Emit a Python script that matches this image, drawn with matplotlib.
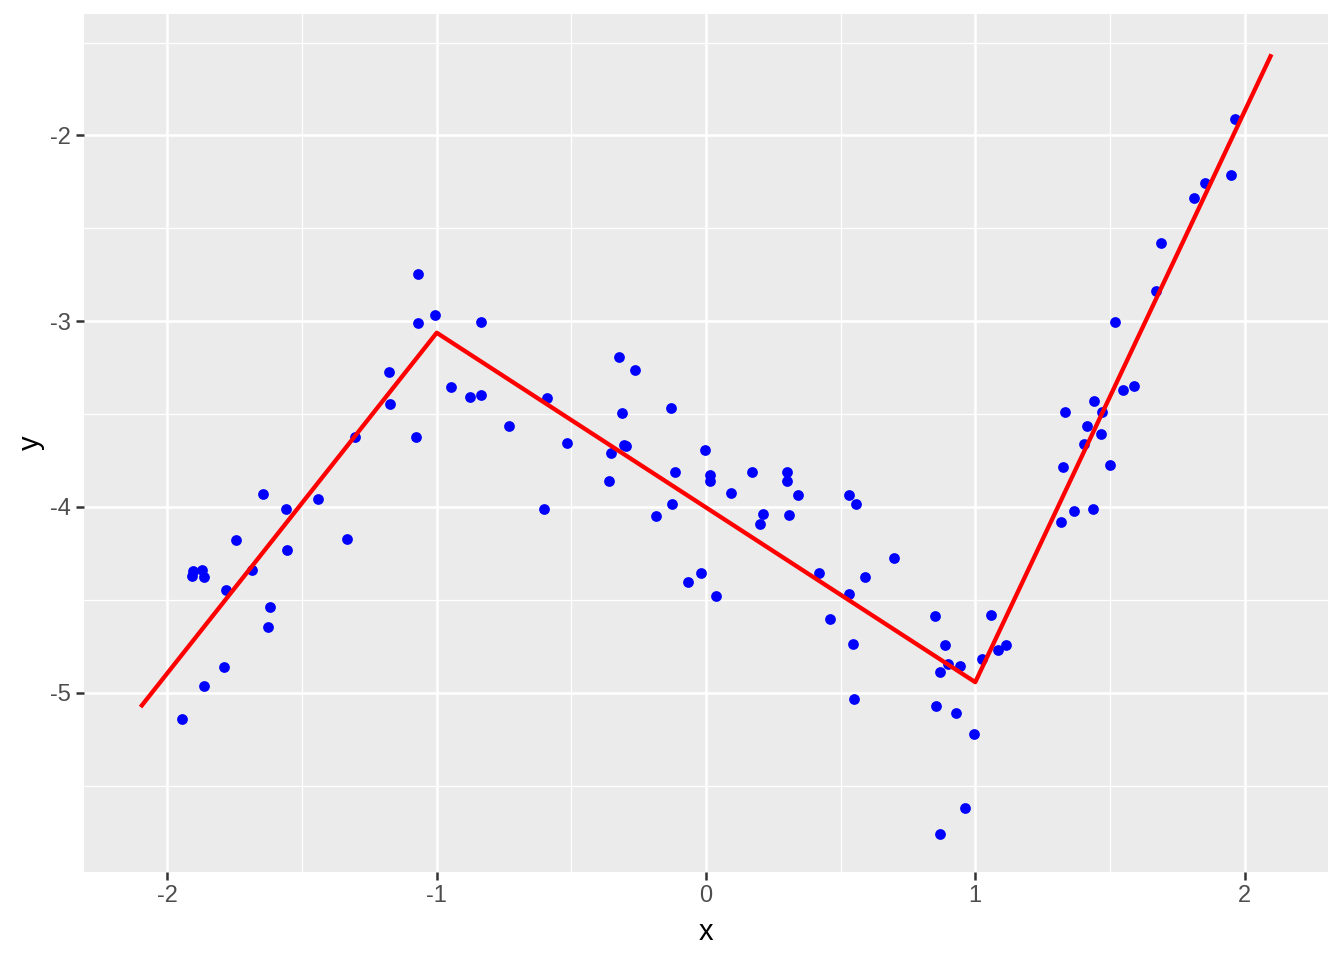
import matplotlib
matplotlib.use("Agg")
import matplotlib.pyplot as plt
from matplotlib.ticker import MultipleLocator

x = [-1.646, -1.561, -1.442, -1.746, -1.557, -1.334, -1.904, -1.873, -1.910, -1.864,
     -1.687, -1.783, -1.619, -1.628, -1.791, -1.866, -1.947,
     -1.071, -1.071, -1.008, -0.837, -1.178, -1.175, -1.305, -1.078, -0.947,
     -0.877, -0.837, -0.732, -0.592, -0.517,
     -0.603, -0.324, -0.265, -0.312, -0.131, -0.306, -0.297, -0.354, -0.361, -0.005,
     -0.115, 0.014, 0.014, 0.092, 0.170, 0.302, 0.300, 0.341, 0.531, -0.127,
     -0.187, 0.212, 0.199, 0.307, -0.067, -0.020, 0.037, 0.420, 0.459, 0.531,
     0.556, 0.697, 0.589, 0.546, 0.851, 1.057, 0.888, 1.083, 1.115, 1.026,
     0.898, 0.943, 0.868, 0.550, 0.853, 0.929, 0.994, 0.962, 0.868,
     1.518, 1.588, 1.548, 1.441, 1.332, 1.470, 1.414, 1.466, 1.405, 1.325,
     1.499, 1.367, 1.436, 1.317,
     1.964, 1.949, 1.852, 1.812, 1.689, 1.670]
y = [-3.929, -4.012, -3.956, -4.177, -4.231, -4.172, -4.343, -4.337, -4.373, -4.377,
     -4.339, -4.447, -4.539, -4.647, -4.862, -4.965, -5.143,
     -2.748, -3.007, -2.964, -3.002, -3.271, -3.447, -3.622, -3.622, -3.352,
     -3.406, -3.395, -3.563, -3.412, -3.654,
     -4.010, -3.190, -3.262, -3.492, -3.467, -3.667, -3.672, -3.708, -3.859, -3.692,
     -3.811, -3.830, -3.861, -3.926, -3.811, -3.811, -3.859, -3.935, -3.935, -3.983,
     -4.048, -4.037, -4.091, -4.043, -4.404, -4.355, -4.480, -4.355, -4.605, -4.467,
     -3.983, -4.275, -4.377, -4.738, -4.587, -4.582, -4.744, -4.771, -4.744, -4.821,
     -4.846, -4.855, -4.889, -5.035, -5.073, -5.111, -5.224, -5.618, -5.763,
     -3.003, -3.347, -3.368, -3.428, -3.487, -3.487, -3.563, -3.606, -3.663, -3.784,
     -3.773, -4.021, -4.012, -4.080,
     -1.912, -2.214, -2.257, -2.338, -2.581, -2.838]

fit_x = [-2.1, -1.0, 1.0, 2.1]
fit_y = [-5.077, -3.062, -4.943, -1.563]

x_ticks = [-2, -1, 0, 1, 2]
y_ticks = [-5, -4, -3, -2]

plt.rcParams['font.family'] = ['Liberation Sans', 'DejaVu Sans']
plt.rcParams['axes.unicode_minus'] = False

fig = plt.figure(figsize=(13.44, 9.6), dpi=100)
ax = fig.add_axes([84/1344, 1 - 872/960, (1328 - 84)/1344, (872 - 14)/960])
ax.set_facecolor('#EBEBEB')
for s in ax.spines.values():
    s.set_visible(False)

ax.set_xlim(-2.31, 2.31)
ax.set_ylim(-5.965, -1.346)
ax.set_xticks(x_ticks)
ax.set_yticks(y_ticks)
ax.xaxis.set_minor_locator(MultipleLocator(0.5))
ax.yaxis.set_minor_locator(MultipleLocator(0.5))
ax.grid(which='major', color='white', linewidth=1.8)
ax.grid(which='minor', color='white', linewidth=0.9)
ax.set_axisbelow(True)
ax.tick_params(which='minor', length=0)
ax.tick_params(which='major', length=5.8, width=1.8, color='#333333',
               labelcolor='#4D4D4D', labelsize=17, pad=3.2)
ax.tick_params(axis='y', which='major', pad=4.0)

ax.scatter(x, y, s=60, color='#0000FF', linewidths=0, zorder=3)
ax.plot(fit_x, fit_y, color='#FF0000', linewidth=3.1, zorder=4, solid_capstyle='butt')

ax.set_xlabel('x', fontsize=21, color='black', labelpad=8)
ax.set_ylabel('y', fontsize=21, color='black', labelpad=3)

fig.savefig('out.png', dpi=100, facecolor='white')
